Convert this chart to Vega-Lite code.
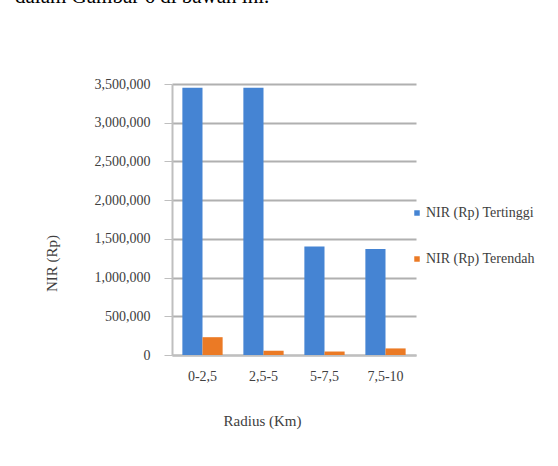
{
  "$schema": "https://vega.github.io/schema/vega-lite/v6.json",
  "width": 244,
  "height": 271,
  "autosize": {"type": "none"},
  "padding": {"left": 172, "top": 84, "right": 142, "bottom": 111},
  "background": "white",
  "title": {
    "text": "dalam Gambar  6 di bawah ini.",
    "font": "'Liberation Serif', 'Times New Roman', serif",
    "fontSize": 21,
    "fontWeight": "normal",
    "color": "#000000",
    "anchor": "start",
    "frame": "group",
    "orient": "top",
    "baseline": "alphabetic",
    "offset": 53,
    "dx": -157
  },
  "data": {
    "values": [
      {"radius": "0-2,5", "series": "NIR (Rp) Tertinggi", "nir": 3450000},
      {"radius": "0-2,5", "series": "NIR (Rp) Terendah", "nir": 230000},
      {"radius": "2,5-5", "series": "NIR (Rp) Tertinggi", "nir": 3450000},
      {"radius": "2,5-5", "series": "NIR (Rp) Terendah", "nir": 55000},
      {"radius": "5-7,5", "series": "NIR (Rp) Tertinggi", "nir": 1400000},
      {"radius": "5-7,5", "series": "NIR (Rp) Terendah", "nir": 45000},
      {"radius": "7,5-10", "series": "NIR (Rp) Tertinggi", "nir": 1370000},
      {"radius": "7,5-10", "series": "NIR (Rp) Terendah", "nir": 85000}
    ]
  },
  "mark": {"type": "bar"},
  "encoding": {
    "x": {
      "field": "radius",
      "type": "nominal",
      "sort": ["0-2,5", "2,5-5", "5-7,5", "7,5-10"],
      "scale": {"paddingInner": 0.34, "paddingOuter": 0.17},
      "title": "Radius (Km)",
      "axis": {
        "labelAngle": 0,
        "labelFontSize": 14,
        "labelColor": "#404040",
        "labelPadding": 14,
        "ticks": false,
        "domainColor": "#bfbfbf",
        "domainWidth": 2,
        "titleFontSize": 15,
        "titleFontWeight": "normal",
        "titleColor": "#404040",
        "titleY": 58,
        "titleX": 90
      }
    },
    "xOffset": {
      "field": "series",
      "sort": ["NIR (Rp) Tertinggi", "NIR (Rp) Terendah"],
      "scale": {"paddingInner": 0}
    },
    "y": {
      "field": "nir",
      "type": "quantitative",
      "scale": {"domain": [0, 3500000], "nice": false},
      "title": "NIR (Rp)",
      "axis": {
        "values": [0, 500000, 1000000, 1500000, 2000000, 2500000, 3000000, 3500000],
        "format": ",.0f",
        "labelFontSize": 14,
        "labelColor": "#404040",
        "labelPadding": 14,
        "tickSize": 8,
        "tickColor": "#bfbfbf",
        "domainColor": "#bfbfbf",
        "domainWidth": 2,
        "gridColor": "#b0b0b0",
        "gridWidth": 2,
        "titleFontSize": 15,
        "titleFontWeight": "normal",
        "titleColor": "#404040",
        "titleX": -113,
        "titleY": 179,
        "titleAngle": -90
      }
    },
    "color": {
      "field": "series",
      "type": "nominal",
      "sort": ["NIR (Rp) Tertinggi", "NIR (Rp) Terendah"],
      "scale": {
        "domain": ["NIR (Rp) Tertinggi", "NIR (Rp) Terendah"],
        "range": ["#4584d3", "#eb7a25"]
      },
      "legend": {
        "title": null,
        "orient": "none",
        "legendX": 238,
        "legendY": 122,
        "symbolType": "square",
        "symbolSize": 30,
        "labelFontSize": 14,
        "labelColor": "#404040",
        "rowPadding": 32,
        "labelOffset": 2
      }
    }
  },
  "config": {
    "view": {"stroke": null},
    "font": "'Liberation Serif', 'Times New Roman', serif",
    "axis": {"labelFont": "'Liberation Serif', 'Times New Roman', serif", "titleFont": "'Liberation Serif', 'Times New Roman', serif"},
    "legend": {"labelFont": "'Liberation Serif', 'Times New Roman', serif"}
  }
}
